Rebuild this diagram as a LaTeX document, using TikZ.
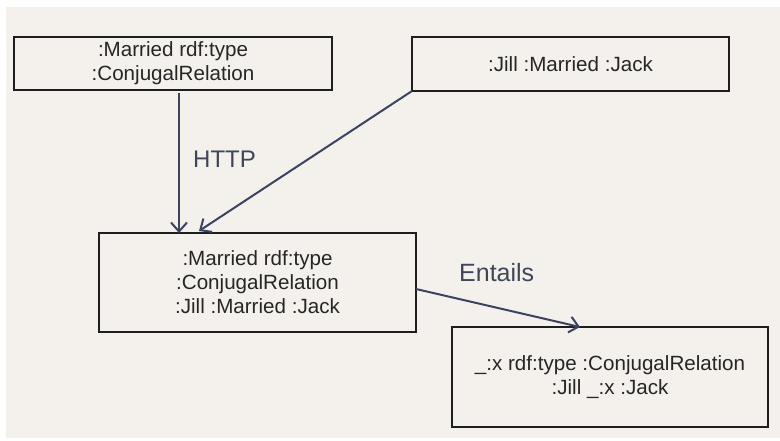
\documentclass[tikz,border=0pt]{standalone}
\usepackage{fontspec}
\setmainfont{Liberation Sans}
\usetikzlibrary{arrows.meta}
\definecolor{bgcol}{HTML}{F4F1EC}
\definecolor{arrcol}{HTML}{3A4461}
\definecolor{labcol}{HTML}{3E4658}
\definecolor{boxcol}{HTML}{1E1E1E}
\definecolor{txtcol}{HTML}{262626}
\tikzset{
  stmt/.style={draw=boxcol, line width=2pt, inner sep=0pt, outer sep=0pt,
    align=center, text=txtcol, font=\fontsize{20.6}{24}\selectfont},
  link/.style={draw=arrcol, line width=2pt,
    -{Straight Barb[length=9pt,width=16pt,line width=2pt]}},
  lab/.style={text=labcol, inner sep=0pt, anchor=base west}
}
\begin{document}
\begin{tikzpicture}[x=1pt,y=-1pt]
\useasboundingbox (0,0) rectangle (780,441);
\fill[white] (0,0) rectangle (780,441);
\fill[bgcol] (6,7) rectangle (780,438);
\node[stmt, minimum width=318pt, minimum height=53pt] (A) at (173,63.5)
  {:Married rdf:type\\:ConjugalRelation};
\node[stmt, minimum width=317pt, minimum height=54pt] (B) at (570.5,64)
  {:Jill :Married :Jack};
\node[stmt, minimum width=317pt, minimum height=99pt] (C) at (257.5,282.5)
  {:Married rdf:type\\:ConjugalRelation\\:Jill :Married :Jack};
\node[stmt, minimum width=316pt, minimum height=100pt] (D) at (610,377)
  {\_:x rdf:type :ConjugalRelation\\:Jill \_:x :Jack};
\coordinate (ax) at (179,0);
\coordinate (bt) at (199,231);
\coordinate (cs) at (0,289);
\coordinate (dt) at (580,0);
\draw[link] ([yshift=-3pt]A.south -| ax) -- (C.north -| ax);
\draw[link] (B.south west) -- (bt);
\draw[link] (C.east |- cs) -- (D.north -| dt);
\node[lab, font=\fontsize{24}{28}\selectfont] (http) at (193,168) {HTTP};
\node[lab, font=\fontsize{25}{29}\selectfont] (ent) at (459,281) {Entails};
\end{tikzpicture}
\end{document}
